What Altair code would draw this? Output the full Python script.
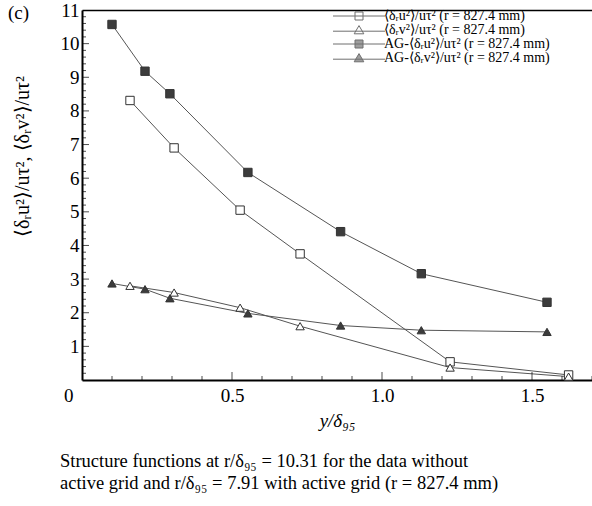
import altair as alt
import pandas as pd

# ---- data ----
series_names = [
    "⟨δᵣu²⟩/uτ² (r = 827.4 mm)",
    "⟨δᵣv²⟩/uτ² (r = 827.4 mm)",
    "AG-⟨δᵣu²⟩/uτ² (r = 827.4 mm)",
    "AG-⟨δᵣv²⟩/uτ² (r = 827.4 mm)",
]

x_plain = [0.16, 0.307, 0.527, 0.727, 1.227, 1.622]
u_plain = [8.31, 6.90, 5.05, 3.75, 0.54, 0.15]
v_plain = [2.80, 2.60, 2.15, 1.60, 0.37, 0.10]

x_ag = [0.10, 0.21, 0.293, 0.553, 0.862, 1.131, 1.55]
u_ag = [10.57, 9.18, 8.51, 6.17, 4.41, 3.16, 2.31]
v_ag = [2.87, 2.70, 2.43, 1.98, 1.62, 1.48, 1.43]

x_tick_values = [0, 0.5, 1.0, 1.5]
y_tick_values = [1, 2, 3, 4, 5, 6, 7, 8, 9, 10, 11]
x_minor = [round(0.1 * i, 1) for i in range(1, 18)]
y_minor = [round(0.2 * i, 1) for i in range(1, 55)]

rows = []
for xs_, ys_, name in [(x_plain, u_plain, series_names[0]),
                       (x_plain, v_plain, series_names[1]),
                       (x_ag, u_ag, series_names[2]),
                       (x_ag, v_ag, series_names[3])]:
    for i, (a, b) in enumerate(zip(xs_, ys_)):
        rows.append({"x": a, "y": b, "series": name, "order": i})
df = pd.DataFrame(rows)

xt = pd.DataFrame({"v": x_minor, "major": [abs(v * 2 - round(v * 2)) < 1e-9 for v in x_minor]})
yt = pd.DataFrame({"v": y_minor, "major": [abs(v - round(v)) < 1e-9 for v in y_minor]})

SERIF = "Liberation Serif"
W, H = 510, 370

xs = alt.Scale(domain=[0, 1.7], nice=False, zero=False)
ys = alt.Scale(domain=[0, 11], nice=False, zero=False)

base = alt.Chart(df)

lines = base.mark_line(color="#555555", strokeWidth=1).encode(
    x=alt.X("x:Q", scale=xs,
            axis=alt.Axis(title="y/δ₉₅", values=x_tick_values, ticks=False,
                          labelFont=SERIF, labelFontSize=19, labelColor="black",
                          labelPadding=6, domainColor="black", domainWidth=2,
                          grid=False, titleFont=SERIF, titleFontSize=19,
                          titleFontWeight="normal", titleFontStyle="italic",
                          titleColor="black", titlePadding=6,
                          labelAlign={"condition": {"test": "datum.value == 0", "value": "right"},
                                      "value": "center"},
                          labelOffset={"condition": {"test": "datum.value == 0", "value": -9},
                                       "value": 0},
                          labelExpr="datum.value == 0 ? '0' : format(datum.value, '.1f')",
                          labelFlush=False)),
    y=alt.Y("y:Q", scale=ys,
            axis=alt.Axis(title="⟨δᵣu²⟩/uτ², ⟨δᵣv²⟩/uτ²", values=y_tick_values,
                          ticks=False, labelFont=SERIF, labelFontSize=19,
                          labelColor="black", labelPadding=3, domainColor="black",
                          domainWidth=2, grid=False, titleFont=SERIF,
                          titleFontSize=20, titleFontWeight="normal",
                          titleColor="black", titlePadding=28, titleY=146,
                          labelFlush=False)),
    detail="series:N",
    order="order:Q",
)

points = base.mark_point(size=70, strokeWidth=1, opacity=1).encode(
    x=alt.X("x:Q", scale=xs, axis=None),
    y=alt.Y("y:Q", scale=ys, axis=None),
    shape=alt.Shape("series:N", legend=None,
                    scale=alt.Scale(domain=series_names,
                                    range=["square", "triangle-up", "square", "triangle-up"])),
    fill=alt.Fill("series:N", legend=None,
                  scale=alt.Scale(domain=series_names,
                                  range=["white", "white", "#3c3c3c", "#3c3c3c"])),
    stroke=alt.value("#333333"),
)

# legend-only layer (empty data); symbols include the line segment
sq = "M-6.5,0H6.5M-1,-1H1V1H-1Z"
tri = "M-6.5,0.3H6.5M0,-1.1L1.2,0.95H-1.2Z"


def leg():
    return alt.Legend(title=None, orient="none", legendX=270, legendY=-1,
                      labelFont=SERIF, labelFontSize=14, labelColor="black",
                      labelOffset=18, symbolSize=64, rowPadding=-0.5,
                      symbolStrokeWidth=1, labelLimit=400)


legend_layer = base.transform_filter("false").mark_point(size=64, strokeWidth=1).encode(
    x=alt.X("x:Q", scale=xs, axis=None),
    y=alt.Y("y:Q", scale=ys, axis=None),
    shape=alt.Shape("series:N",
                    scale=alt.Scale(domain=series_names, range=[sq, tri, sq, tri]),
                    legend=leg()),
    fill=alt.Fill("series:N",
                  scale=alt.Scale(domain=series_names,
                                  range=["white", "white", "#3c3c3c", "#3c3c3c"]),
                  legend=leg()),
    stroke=alt.Stroke("series:N",
                      scale=alt.Scale(domain=series_names,
                                      range=["#333333", "#333333", "#333333", "#333333"]),
                      legend=leg()),
)

# top frame line as a top axis with no ticks/labels
top_axis = alt.Chart(pd.DataFrame({"x": [0]})).mark_point(opacity=0).encode(
    x=alt.X("x:Q", scale=xs, axis=alt.Axis(orient="top", labels=False, ticks=False,
                                           title=None, grid=False, domainColor="black",
                                           domainWidth=1.5)),
    y=alt.Y("x:Q", scale=ys, axis=None),
)

# inward ticks (drawn inside the plot, starting at the axis line)
xt_base = alt.Chart(xt)
x_ticks_major = xt_base.transform_filter("datum.major").mark_tick(
    color="black", thickness=1, size=8).encode(
    x=alt.X("v:Q", scale=xs, axis=None), y=alt.value(H - 4))
x_ticks_minor = xt_base.transform_filter("!datum.major").mark_tick(
    color="black", thickness=1, size=4).encode(
    x=alt.X("v:Q", scale=xs, axis=None), y=alt.value(H - 2))

yt_base = alt.Chart(yt)
y_ticks_major = yt_base.transform_filter("datum.major").mark_tick(
    color="black", thickness=1, size=7, orient="horizontal").encode(
    y=alt.Y("v:Q", scale=ys, axis=None), x=alt.value(3.5))
y_ticks_minor = yt_base.transform_filter("!datum.major").mark_tick(
    color="black", thickness=1, size=4, orient="horizontal").encode(
    y=alt.Y("v:Q", scale=ys, axis=None), x=alt.value(2))

panel_label = alt.Chart(pd.DataFrame({"t": ["(c)"]})).mark_text(
    font=SERIF, fontSize=19, fontStyle="normal", align="left", baseline="middle", color="black"
).encode(text="t:N", x=alt.value(-74), y=alt.value(3))

chart = alt.layer(lines, x_ticks_major, x_ticks_minor, y_ticks_major, y_ticks_minor,
                  points, legend_layer, top_axis, panel_label).resolve_scale(
    shape="independent", fill="independent", stroke="independent"
).resolve_axis(x="independent", y="independent").properties(
    width=W, height=H,
    autosize=alt.AutoSizeParams(type="none"),
    padding={"left": 82, "top": 10, "right": 0, "bottom": 126},
    title=alt.Title(
        text=["Structure functions at r/δ₉₅ = 10.31 for the data without",
              "active grid and r/δ₉₅ = 7.91 with active grid (r  = 827.4 mm)"],
        orient="bottom", anchor="start", frame="group", dx=-22, offset=22,
        font=SERIF, fontSize=18.5, fontWeight="normal", color="black", lineHeight=22,
    ),
).configure_view(stroke=None).configure(background="white")

chart.save("out.html", embed_options={"renderer": "svg", "actions": False})
